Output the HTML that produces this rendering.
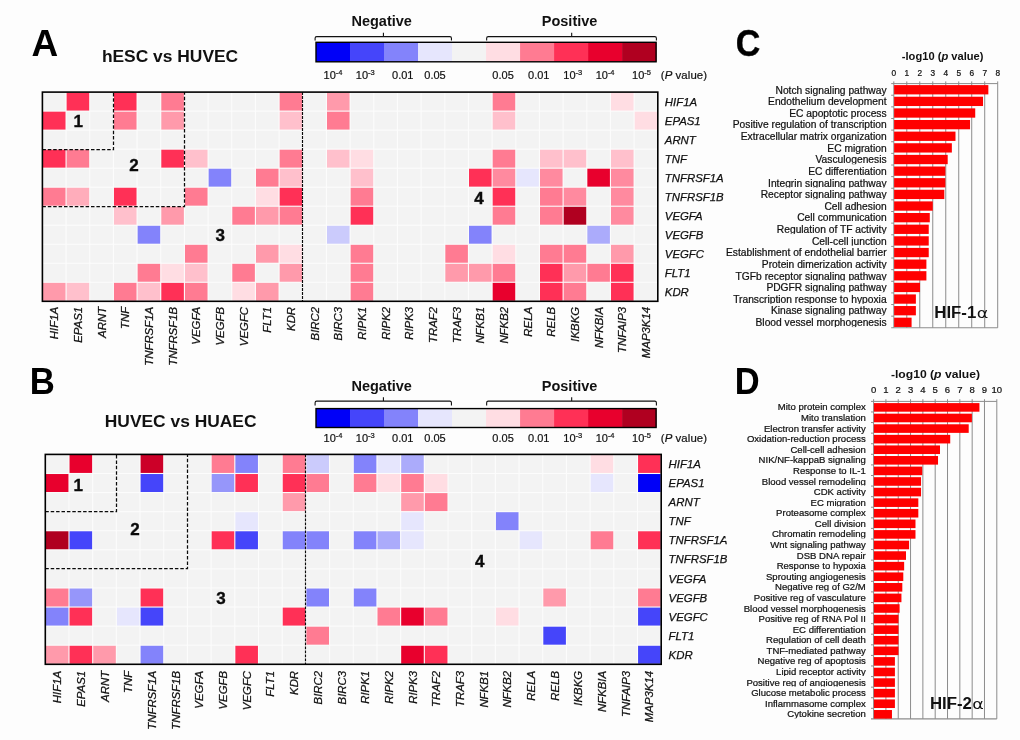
<!DOCTYPE html>
<html><head><meta charset="utf-8"><title>Figure</title>
<style>
html,body{margin:0;padding:0;background:#fdfdfd;}
body{width:1020px;height:740px;overflow:hidden;}
svg{display:block;font-family:"Liberation Sans",Arial,sans-serif;}
.gi{font-size:11.4px;font-style:italic;fill:#111;stroke:#111;stroke-width:0.25px;}
.num{font-size:17px;font-weight:bold;fill:#0a0a0a;stroke:#0a0a0a;stroke-width:0.35px;}
.lt{font-size:14.5px;font-weight:bold;fill:#111;}
.ll{font-size:11px;fill:#111;stroke:#111;stroke-width:0.2px;}
.bl{fill:#111;stroke:#111;stroke-width:0.22px;}
.big{font-size:37px;font-weight:bold;fill:#000;}
.ttl{font-size:17.4px;font-weight:bold;fill:#111;}
</style></head><body>
<svg width="1020" height="740" viewBox="0 0 1020 740">
<rect width="1020" height="740" fill="#fdfdfd"/>
<text class="big" x="31.6" y="56.0" style="font-size:36px" textLength="26.7" lengthAdjust="spacingAndGlyphs">A</text>
<text class="ttl" x="101.9" y="61.8">hESC vs HUVEC</text>
<text class="big" x="29.7" y="394.3" style="font-size:36px" textLength="25.1" lengthAdjust="spacingAndGlyphs">B</text>
<text class="ttl" x="104.8" y="427.4">HUVEC vs HUAEC</text>
<text class="big" x="735.8" y="56.15" style="font-size:37px" stroke="#000" stroke-width="0.4" textLength="24.6" lengthAdjust="spacingAndGlyphs">C</text>
<text class="big" x="734.7" y="394.0" style="font-size:36px" textLength="24.9" lengthAdjust="spacingAndGlyphs">D</text>
<rect x="316.00" y="42.3" width="34.31" height="19.50" fill="#0000f8"/>
<rect x="350.01" y="42.3" width="34.31" height="19.50" fill="#4545fa"/>
<rect x="384.02" y="42.3" width="34.31" height="19.50" fill="#8383fb"/>
<rect x="418.03" y="42.3" width="34.31" height="19.50" fill="#e6e6fd"/>
<rect x="452.04" y="42.3" width="34.31" height="19.50" fill="#f3f3f3"/>
<rect x="486.05" y="42.3" width="34.31" height="19.50" fill="#ffdde3"/>
<rect x="520.06" y="42.3" width="34.31" height="19.50" fill="#ff7b92"/>
<rect x="554.07" y="42.3" width="34.31" height="19.50" fill="#ff3056"/>
<rect x="588.08" y="42.3" width="34.31" height="19.50" fill="#e8002d"/>
<rect x="622.09" y="42.3" width="34.31" height="19.50" fill="#b00020"/>
<rect x="316.0" y="42.3" width="340.10" height="19.50" fill="none" stroke="#000" stroke-width="1.4"/>
<path d="M315.10 40.60V38.20Q315.10 36.60 316.70 36.60H449.84Q451.44 36.60 451.44 38.20V40.60M383.42 36.60V32.70" stroke="#111" stroke-width="1.1" fill="none"/>
<path d="M486.65 40.60V38.20Q486.65 36.60 488.25 36.60H654.80Q656.40 36.60 656.40 38.20V40.60M571.68 36.60V32.70" stroke="#111" stroke-width="1.1" fill="none"/>
<text class="lt" text-anchor="end" x="411.9" y="26.30">Negative</text>
<text class="lt" text-anchor="end" x="597.4" y="26.30">Positive</text>
<text class="ll" text-anchor="middle" x="333.00" y="78.50">10<tspan dy="-4" font-size="7.5">-4</tspan></text>
<text class="ll" text-anchor="middle" x="365.31" y="78.50">10<tspan dy="-4" font-size="7.5">-3</tspan></text>
<text class="ll" text-anchor="middle" x="402.73" y="78.50">0.01</text>
<text class="ll" text-anchor="middle" x="435.04" y="78.50">0.05</text>
<text class="ll" text-anchor="middle" x="503.06" y="78.50">0.05</text>
<text class="ll" text-anchor="middle" x="538.77" y="78.50">0.01</text>
<text class="ll" text-anchor="middle" x="572.78" y="78.50">10<tspan dy="-4" font-size="7.5">-3</tspan></text>
<text class="ll" text-anchor="middle" x="605.09" y="78.50">10<tspan dy="-4" font-size="7.5">-4</tspan></text>
<text class="ll" text-anchor="middle" x="641.48" y="78.50">10<tspan dy="-4" font-size="7.5">-5</tspan></text>
<text class="ll" x="660.80" y="78.50" style="font-size:11.4px" textLength="46.2" lengthAdjust="spacing">(<tspan font-style="italic">P</tspan> value)</text>
<rect x="316.00" y="408.6" width="34.31" height="18.90" fill="#0000f8"/>
<rect x="350.01" y="408.6" width="34.31" height="18.90" fill="#4545fa"/>
<rect x="384.02" y="408.6" width="34.31" height="18.90" fill="#8383fb"/>
<rect x="418.03" y="408.6" width="34.31" height="18.90" fill="#e6e6fd"/>
<rect x="452.04" y="408.6" width="34.31" height="18.90" fill="#f3f3f3"/>
<rect x="486.05" y="408.6" width="34.31" height="18.90" fill="#ffdde3"/>
<rect x="520.06" y="408.6" width="34.31" height="18.90" fill="#ff7b92"/>
<rect x="554.07" y="408.6" width="34.31" height="18.90" fill="#ff3056"/>
<rect x="588.08" y="408.6" width="34.31" height="18.90" fill="#e8002d"/>
<rect x="622.09" y="408.6" width="34.31" height="18.90" fill="#b00020"/>
<rect x="316.0" y="408.6" width="340.10" height="18.90" fill="none" stroke="#000" stroke-width="1.4"/>
<path d="M315.10 405.60V402.70Q315.10 401.10 316.70 401.10H449.84Q451.44 401.10 451.44 402.70V405.60M383.42 401.10V397.20" stroke="#111" stroke-width="1.1" fill="none"/>
<path d="M486.65 405.60V402.70Q486.65 401.10 488.25 401.10H654.80Q656.40 401.10 656.40 402.70V405.60M571.68 401.10V397.20" stroke="#111" stroke-width="1.1" fill="none"/>
<text class="lt" text-anchor="end" x="411.9" y="390.80">Negative</text>
<text class="lt" text-anchor="end" x="597.4" y="390.80">Positive</text>
<text class="ll" text-anchor="middle" x="333.00" y="442.30">10<tspan dy="-4" font-size="7.5">-4</tspan></text>
<text class="ll" text-anchor="middle" x="365.31" y="442.30">10<tspan dy="-4" font-size="7.5">-3</tspan></text>
<text class="ll" text-anchor="middle" x="402.73" y="442.30">0.01</text>
<text class="ll" text-anchor="middle" x="435.04" y="442.30">0.05</text>
<text class="ll" text-anchor="middle" x="503.06" y="442.30">0.05</text>
<text class="ll" text-anchor="middle" x="538.77" y="442.30">0.01</text>
<text class="ll" text-anchor="middle" x="572.78" y="442.30">10<tspan dy="-4" font-size="7.5">-3</tspan></text>
<text class="ll" text-anchor="middle" x="605.09" y="442.30">10<tspan dy="-4" font-size="7.5">-4</tspan></text>
<text class="ll" text-anchor="middle" x="641.48" y="442.30">10<tspan dy="-4" font-size="7.5">-5</tspan></text>
<text class="ll" x="660.80" y="442.30" style="font-size:11.4px" textLength="46.2" lengthAdjust="spacing">(<tspan font-style="italic">P</tspan> value)</text>
<rect x="42.4" y="92.1" width="615.40" height="209.20" fill="#fcfcfc"/>
<rect x="42.95" y="92.65" width="22.57" height="17.92" fill="#f3f3f3"/>
<rect x="66.62" y="92.65" width="22.57" height="17.92" fill="#ff3056"/>
<rect x="90.29" y="92.65" width="22.57" height="17.92" fill="#f3f3f3"/>
<rect x="113.96" y="92.65" width="22.57" height="17.92" fill="#ff3056"/>
<rect x="137.63" y="92.65" width="22.57" height="17.92" fill="#f3f3f3"/>
<rect x="161.30" y="92.65" width="22.57" height="17.92" fill="#ff7b92"/>
<rect x="184.97" y="92.65" width="22.57" height="17.92" fill="#f3f3f3"/>
<rect x="208.63" y="92.65" width="22.57" height="17.92" fill="#f3f3f3"/>
<rect x="232.30" y="92.65" width="22.57" height="17.92" fill="#f3f3f3"/>
<rect x="255.97" y="92.65" width="22.57" height="17.92" fill="#f3f3f3"/>
<rect x="279.64" y="92.65" width="22.57" height="17.92" fill="#ff7b92"/>
<rect x="303.31" y="92.65" width="22.57" height="17.92" fill="#f3f3f3"/>
<rect x="326.98" y="92.65" width="22.57" height="17.92" fill="#ff9aab"/>
<rect x="350.65" y="92.65" width="22.57" height="17.92" fill="#f3f3f3"/>
<rect x="374.32" y="92.65" width="22.57" height="17.92" fill="#f3f3f3"/>
<rect x="397.99" y="92.65" width="22.57" height="17.92" fill="#f3f3f3"/>
<rect x="421.66" y="92.65" width="22.57" height="17.92" fill="#f3f3f3"/>
<rect x="445.33" y="92.65" width="22.57" height="17.92" fill="#f3f3f3"/>
<rect x="469.00" y="92.65" width="22.57" height="17.92" fill="#f3f3f3"/>
<rect x="492.67" y="92.65" width="22.57" height="17.92" fill="#ff7b92"/>
<rect x="516.33" y="92.65" width="22.57" height="17.92" fill="#f3f3f3"/>
<rect x="540.00" y="92.65" width="22.57" height="17.92" fill="#f3f3f3"/>
<rect x="563.67" y="92.65" width="22.57" height="17.92" fill="#f3f3f3"/>
<rect x="587.34" y="92.65" width="22.57" height="17.92" fill="#f3f3f3"/>
<rect x="611.01" y="92.65" width="22.57" height="17.92" fill="#ffdde3"/>
<rect x="634.68" y="92.65" width="22.57" height="17.92" fill="#f3f3f3"/>
<rect x="42.95" y="111.67" width="22.57" height="17.92" fill="#ff3056"/>
<rect x="66.62" y="111.67" width="22.57" height="17.92" fill="#f3f3f3"/>
<rect x="90.29" y="111.67" width="22.57" height="17.92" fill="#f3f3f3"/>
<rect x="113.96" y="111.67" width="22.57" height="17.92" fill="#ff7b92"/>
<rect x="137.63" y="111.67" width="22.57" height="17.92" fill="#f3f3f3"/>
<rect x="161.30" y="111.67" width="22.57" height="17.92" fill="#ff9aab"/>
<rect x="184.97" y="111.67" width="22.57" height="17.92" fill="#f3f3f3"/>
<rect x="208.63" y="111.67" width="22.57" height="17.92" fill="#f3f3f3"/>
<rect x="232.30" y="111.67" width="22.57" height="17.92" fill="#f3f3f3"/>
<rect x="255.97" y="111.67" width="22.57" height="17.92" fill="#f3f3f3"/>
<rect x="279.64" y="111.67" width="22.57" height="17.92" fill="#ffc0cc"/>
<rect x="303.31" y="111.67" width="22.57" height="17.92" fill="#f3f3f3"/>
<rect x="326.98" y="111.67" width="22.57" height="17.92" fill="#ff7b92"/>
<rect x="350.65" y="111.67" width="22.57" height="17.92" fill="#f3f3f3"/>
<rect x="374.32" y="111.67" width="22.57" height="17.92" fill="#f3f3f3"/>
<rect x="397.99" y="111.67" width="22.57" height="17.92" fill="#f3f3f3"/>
<rect x="421.66" y="111.67" width="22.57" height="17.92" fill="#f3f3f3"/>
<rect x="445.33" y="111.67" width="22.57" height="17.92" fill="#f3f3f3"/>
<rect x="469.00" y="111.67" width="22.57" height="17.92" fill="#f3f3f3"/>
<rect x="492.67" y="111.67" width="22.57" height="17.92" fill="#ffc0cc"/>
<rect x="516.33" y="111.67" width="22.57" height="17.92" fill="#f3f3f3"/>
<rect x="540.00" y="111.67" width="22.57" height="17.92" fill="#f3f3f3"/>
<rect x="563.67" y="111.67" width="22.57" height="17.92" fill="#f3f3f3"/>
<rect x="587.34" y="111.67" width="22.57" height="17.92" fill="#f3f3f3"/>
<rect x="611.01" y="111.67" width="22.57" height="17.92" fill="#f3f3f3"/>
<rect x="634.68" y="111.67" width="22.57" height="17.92" fill="#ffdde3"/>
<rect x="42.95" y="130.69" width="22.57" height="17.92" fill="#f3f3f3"/>
<rect x="66.62" y="130.69" width="22.57" height="17.92" fill="#f3f3f3"/>
<rect x="90.29" y="130.69" width="22.57" height="17.92" fill="#f3f3f3"/>
<rect x="113.96" y="130.69" width="22.57" height="17.92" fill="#f3f3f3"/>
<rect x="137.63" y="130.69" width="22.57" height="17.92" fill="#f3f3f3"/>
<rect x="161.30" y="130.69" width="22.57" height="17.92" fill="#f3f3f3"/>
<rect x="184.97" y="130.69" width="22.57" height="17.92" fill="#f3f3f3"/>
<rect x="208.63" y="130.69" width="22.57" height="17.92" fill="#f3f3f3"/>
<rect x="232.30" y="130.69" width="22.57" height="17.92" fill="#f3f3f3"/>
<rect x="255.97" y="130.69" width="22.57" height="17.92" fill="#f3f3f3"/>
<rect x="279.64" y="130.69" width="22.57" height="17.92" fill="#f3f3f3"/>
<rect x="303.31" y="130.69" width="22.57" height="17.92" fill="#f3f3f3"/>
<rect x="326.98" y="130.69" width="22.57" height="17.92" fill="#f3f3f3"/>
<rect x="350.65" y="130.69" width="22.57" height="17.92" fill="#f3f3f3"/>
<rect x="374.32" y="130.69" width="22.57" height="17.92" fill="#f3f3f3"/>
<rect x="397.99" y="130.69" width="22.57" height="17.92" fill="#f3f3f3"/>
<rect x="421.66" y="130.69" width="22.57" height="17.92" fill="#f3f3f3"/>
<rect x="445.33" y="130.69" width="22.57" height="17.92" fill="#f3f3f3"/>
<rect x="469.00" y="130.69" width="22.57" height="17.92" fill="#f3f3f3"/>
<rect x="492.67" y="130.69" width="22.57" height="17.92" fill="#f3f3f3"/>
<rect x="516.33" y="130.69" width="22.57" height="17.92" fill="#f3f3f3"/>
<rect x="540.00" y="130.69" width="22.57" height="17.92" fill="#f3f3f3"/>
<rect x="563.67" y="130.69" width="22.57" height="17.92" fill="#f3f3f3"/>
<rect x="587.34" y="130.69" width="22.57" height="17.92" fill="#f3f3f3"/>
<rect x="611.01" y="130.69" width="22.57" height="17.92" fill="#f3f3f3"/>
<rect x="634.68" y="130.69" width="22.57" height="17.92" fill="#f3f3f3"/>
<rect x="42.95" y="149.70" width="22.57" height="17.92" fill="#ff3056"/>
<rect x="66.62" y="149.70" width="22.57" height="17.92" fill="#ff7b92"/>
<rect x="90.29" y="149.70" width="22.57" height="17.92" fill="#f3f3f3"/>
<rect x="113.96" y="149.70" width="22.57" height="17.92" fill="#f3f3f3"/>
<rect x="137.63" y="149.70" width="22.57" height="17.92" fill="#f3f3f3"/>
<rect x="161.30" y="149.70" width="22.57" height="17.92" fill="#ff3056"/>
<rect x="184.97" y="149.70" width="22.57" height="17.92" fill="#ffc0cc"/>
<rect x="208.63" y="149.70" width="22.57" height="17.92" fill="#f3f3f3"/>
<rect x="232.30" y="149.70" width="22.57" height="17.92" fill="#f3f3f3"/>
<rect x="255.97" y="149.70" width="22.57" height="17.92" fill="#f3f3f3"/>
<rect x="279.64" y="149.70" width="22.57" height="17.92" fill="#ff7b92"/>
<rect x="303.31" y="149.70" width="22.57" height="17.92" fill="#f3f3f3"/>
<rect x="326.98" y="149.70" width="22.57" height="17.92" fill="#ffc0cc"/>
<rect x="350.65" y="149.70" width="22.57" height="17.92" fill="#ffdde3"/>
<rect x="374.32" y="149.70" width="22.57" height="17.92" fill="#f3f3f3"/>
<rect x="397.99" y="149.70" width="22.57" height="17.92" fill="#f3f3f3"/>
<rect x="421.66" y="149.70" width="22.57" height="17.92" fill="#f3f3f3"/>
<rect x="445.33" y="149.70" width="22.57" height="17.92" fill="#f3f3f3"/>
<rect x="469.00" y="149.70" width="22.57" height="17.92" fill="#f3f3f3"/>
<rect x="492.67" y="149.70" width="22.57" height="17.92" fill="#ff7b92"/>
<rect x="516.33" y="149.70" width="22.57" height="17.92" fill="#f3f3f3"/>
<rect x="540.00" y="149.70" width="22.57" height="17.92" fill="#ffc0cc"/>
<rect x="563.67" y="149.70" width="22.57" height="17.92" fill="#ffc0cc"/>
<rect x="587.34" y="149.70" width="22.57" height="17.92" fill="#f3f3f3"/>
<rect x="611.01" y="149.70" width="22.57" height="17.92" fill="#ffc0cc"/>
<rect x="634.68" y="149.70" width="22.57" height="17.92" fill="#f3f3f3"/>
<rect x="42.95" y="168.72" width="22.57" height="17.92" fill="#f3f3f3"/>
<rect x="66.62" y="168.72" width="22.57" height="17.92" fill="#f3f3f3"/>
<rect x="90.29" y="168.72" width="22.57" height="17.92" fill="#f3f3f3"/>
<rect x="113.96" y="168.72" width="22.57" height="17.92" fill="#f3f3f3"/>
<rect x="137.63" y="168.72" width="22.57" height="17.92" fill="#f3f3f3"/>
<rect x="161.30" y="168.72" width="22.57" height="17.92" fill="#f3f3f3"/>
<rect x="184.97" y="168.72" width="22.57" height="17.92" fill="#f3f3f3"/>
<rect x="208.63" y="168.72" width="22.57" height="17.92" fill="#8383fb"/>
<rect x="232.30" y="168.72" width="22.57" height="17.92" fill="#f3f3f3"/>
<rect x="255.97" y="168.72" width="22.57" height="17.92" fill="#ff7b92"/>
<rect x="279.64" y="168.72" width="22.57" height="17.92" fill="#ffc0cc"/>
<rect x="303.31" y="168.72" width="22.57" height="17.92" fill="#f3f3f3"/>
<rect x="326.98" y="168.72" width="22.57" height="17.92" fill="#f3f3f3"/>
<rect x="350.65" y="168.72" width="22.57" height="17.92" fill="#ffc0cc"/>
<rect x="374.32" y="168.72" width="22.57" height="17.92" fill="#f3f3f3"/>
<rect x="397.99" y="168.72" width="22.57" height="17.92" fill="#f3f3f3"/>
<rect x="421.66" y="168.72" width="22.57" height="17.92" fill="#f3f3f3"/>
<rect x="445.33" y="168.72" width="22.57" height="17.92" fill="#f3f3f3"/>
<rect x="469.00" y="168.72" width="22.57" height="17.92" fill="#ff3056"/>
<rect x="492.67" y="168.72" width="22.57" height="17.92" fill="#ff8a9f"/>
<rect x="516.33" y="168.72" width="22.57" height="17.92" fill="#e6e6fd"/>
<rect x="540.00" y="168.72" width="22.57" height="17.92" fill="#ff8a9f"/>
<rect x="563.67" y="168.72" width="22.57" height="17.92" fill="#f3f3f3"/>
<rect x="587.34" y="168.72" width="22.57" height="17.92" fill="#e8002d"/>
<rect x="611.01" y="168.72" width="22.57" height="17.92" fill="#ff8a9f"/>
<rect x="634.68" y="168.72" width="22.57" height="17.92" fill="#f3f3f3"/>
<rect x="42.95" y="187.74" width="22.57" height="17.92" fill="#ff7b92"/>
<rect x="66.62" y="187.74" width="22.57" height="17.92" fill="#ffadbb"/>
<rect x="90.29" y="187.74" width="22.57" height="17.92" fill="#f3f3f3"/>
<rect x="113.96" y="187.74" width="22.57" height="17.92" fill="#ff3056"/>
<rect x="137.63" y="187.74" width="22.57" height="17.92" fill="#f3f3f3"/>
<rect x="161.30" y="187.74" width="22.57" height="17.92" fill="#f3f3f3"/>
<rect x="184.97" y="187.74" width="22.57" height="17.92" fill="#ff7b92"/>
<rect x="208.63" y="187.74" width="22.57" height="17.92" fill="#f3f3f3"/>
<rect x="232.30" y="187.74" width="22.57" height="17.92" fill="#f3f3f3"/>
<rect x="255.97" y="187.74" width="22.57" height="17.92" fill="#ffdde3"/>
<rect x="279.64" y="187.74" width="22.57" height="17.92" fill="#ff3056"/>
<rect x="303.31" y="187.74" width="22.57" height="17.92" fill="#f3f3f3"/>
<rect x="326.98" y="187.74" width="22.57" height="17.92" fill="#f3f3f3"/>
<rect x="350.65" y="187.74" width="22.57" height="17.92" fill="#ff7b92"/>
<rect x="374.32" y="187.74" width="22.57" height="17.92" fill="#f3f3f3"/>
<rect x="397.99" y="187.74" width="22.57" height="17.92" fill="#f3f3f3"/>
<rect x="421.66" y="187.74" width="22.57" height="17.92" fill="#f3f3f3"/>
<rect x="445.33" y="187.74" width="22.57" height="17.92" fill="#f3f3f3"/>
<rect x="469.00" y="187.74" width="22.57" height="17.92" fill="#f3f3f3"/>
<rect x="492.67" y="187.74" width="22.57" height="17.92" fill="#ff3056"/>
<rect x="516.33" y="187.74" width="22.57" height="17.92" fill="#f3f3f3"/>
<rect x="540.00" y="187.74" width="22.57" height="17.92" fill="#ff7b92"/>
<rect x="563.67" y="187.74" width="22.57" height="17.92" fill="#ff8a9f"/>
<rect x="587.34" y="187.74" width="22.57" height="17.92" fill="#f3f3f3"/>
<rect x="611.01" y="187.74" width="22.57" height="17.92" fill="#ff8a9f"/>
<rect x="634.68" y="187.74" width="22.57" height="17.92" fill="#f3f3f3"/>
<rect x="42.95" y="206.76" width="22.57" height="17.92" fill="#f3f3f3"/>
<rect x="66.62" y="206.76" width="22.57" height="17.92" fill="#f3f3f3"/>
<rect x="90.29" y="206.76" width="22.57" height="17.92" fill="#f3f3f3"/>
<rect x="113.96" y="206.76" width="22.57" height="17.92" fill="#ffc0cc"/>
<rect x="137.63" y="206.76" width="22.57" height="17.92" fill="#f3f3f3"/>
<rect x="161.30" y="206.76" width="22.57" height="17.92" fill="#ff9aab"/>
<rect x="184.97" y="206.76" width="22.57" height="17.92" fill="#f3f3f3"/>
<rect x="208.63" y="206.76" width="22.57" height="17.92" fill="#f3f3f3"/>
<rect x="232.30" y="206.76" width="22.57" height="17.92" fill="#ff7b92"/>
<rect x="255.97" y="206.76" width="22.57" height="17.92" fill="#ff9aab"/>
<rect x="279.64" y="206.76" width="22.57" height="17.92" fill="#ff7b92"/>
<rect x="303.31" y="206.76" width="22.57" height="17.92" fill="#f3f3f3"/>
<rect x="326.98" y="206.76" width="22.57" height="17.92" fill="#f3f3f3"/>
<rect x="350.65" y="206.76" width="22.57" height="17.92" fill="#ff3056"/>
<rect x="374.32" y="206.76" width="22.57" height="17.92" fill="#f3f3f3"/>
<rect x="397.99" y="206.76" width="22.57" height="17.92" fill="#f3f3f3"/>
<rect x="421.66" y="206.76" width="22.57" height="17.92" fill="#f3f3f3"/>
<rect x="445.33" y="206.76" width="22.57" height="17.92" fill="#f3f3f3"/>
<rect x="469.00" y="206.76" width="22.57" height="17.92" fill="#f3f3f3"/>
<rect x="492.67" y="206.76" width="22.57" height="17.92" fill="#ff7b92"/>
<rect x="516.33" y="206.76" width="22.57" height="17.92" fill="#f3f3f3"/>
<rect x="540.00" y="206.76" width="22.57" height="17.92" fill="#ff7b92"/>
<rect x="563.67" y="206.76" width="22.57" height="17.92" fill="#b00020"/>
<rect x="587.34" y="206.76" width="22.57" height="17.92" fill="#f3f3f3"/>
<rect x="611.01" y="206.76" width="22.57" height="17.92" fill="#ff8a9f"/>
<rect x="634.68" y="206.76" width="22.57" height="17.92" fill="#f3f3f3"/>
<rect x="42.95" y="225.78" width="22.57" height="17.92" fill="#f3f3f3"/>
<rect x="66.62" y="225.78" width="22.57" height="17.92" fill="#f3f3f3"/>
<rect x="90.29" y="225.78" width="22.57" height="17.92" fill="#f3f3f3"/>
<rect x="113.96" y="225.78" width="22.57" height="17.92" fill="#f3f3f3"/>
<rect x="137.63" y="225.78" width="22.57" height="17.92" fill="#8383fb"/>
<rect x="161.30" y="225.78" width="22.57" height="17.92" fill="#f3f3f3"/>
<rect x="184.97" y="225.78" width="22.57" height="17.92" fill="#f3f3f3"/>
<rect x="208.63" y="225.78" width="22.57" height="17.92" fill="#f3f3f3"/>
<rect x="232.30" y="225.78" width="22.57" height="17.92" fill="#f3f3f3"/>
<rect x="255.97" y="225.78" width="22.57" height="17.92" fill="#f3f3f3"/>
<rect x="279.64" y="225.78" width="22.57" height="17.92" fill="#f3f3f3"/>
<rect x="303.31" y="225.78" width="22.57" height="17.92" fill="#f3f3f3"/>
<rect x="326.98" y="225.78" width="22.57" height="17.92" fill="#cbcbfc"/>
<rect x="350.65" y="225.78" width="22.57" height="17.92" fill="#f3f3f3"/>
<rect x="374.32" y="225.78" width="22.57" height="17.92" fill="#f3f3f3"/>
<rect x="397.99" y="225.78" width="22.57" height="17.92" fill="#f3f3f3"/>
<rect x="421.66" y="225.78" width="22.57" height="17.92" fill="#f3f3f3"/>
<rect x="445.33" y="225.78" width="22.57" height="17.92" fill="#f3f3f3"/>
<rect x="469.00" y="225.78" width="22.57" height="17.92" fill="#8383fb"/>
<rect x="492.67" y="225.78" width="22.57" height="17.92" fill="#f3f3f3"/>
<rect x="516.33" y="225.78" width="22.57" height="17.92" fill="#f3f3f3"/>
<rect x="540.00" y="225.78" width="22.57" height="17.92" fill="#f3f3f3"/>
<rect x="563.67" y="225.78" width="22.57" height="17.92" fill="#f3f3f3"/>
<rect x="587.34" y="225.78" width="22.57" height="17.92" fill="#ababfb"/>
<rect x="611.01" y="225.78" width="22.57" height="17.92" fill="#f3f3f3"/>
<rect x="634.68" y="225.78" width="22.57" height="17.92" fill="#f3f3f3"/>
<rect x="42.95" y="244.80" width="22.57" height="17.92" fill="#f3f3f3"/>
<rect x="66.62" y="244.80" width="22.57" height="17.92" fill="#f3f3f3"/>
<rect x="90.29" y="244.80" width="22.57" height="17.92" fill="#f3f3f3"/>
<rect x="113.96" y="244.80" width="22.57" height="17.92" fill="#f3f3f3"/>
<rect x="137.63" y="244.80" width="22.57" height="17.92" fill="#f3f3f3"/>
<rect x="161.30" y="244.80" width="22.57" height="17.92" fill="#f3f3f3"/>
<rect x="184.97" y="244.80" width="22.57" height="17.92" fill="#ff7b92"/>
<rect x="208.63" y="244.80" width="22.57" height="17.92" fill="#f3f3f3"/>
<rect x="232.30" y="244.80" width="22.57" height="17.92" fill="#f3f3f3"/>
<rect x="255.97" y="244.80" width="22.57" height="17.92" fill="#ff9aab"/>
<rect x="279.64" y="244.80" width="22.57" height="17.92" fill="#ffdde3"/>
<rect x="303.31" y="244.80" width="22.57" height="17.92" fill="#f3f3f3"/>
<rect x="326.98" y="244.80" width="22.57" height="17.92" fill="#f3f3f3"/>
<rect x="350.65" y="244.80" width="22.57" height="17.92" fill="#ff7b92"/>
<rect x="374.32" y="244.80" width="22.57" height="17.92" fill="#f3f3f3"/>
<rect x="397.99" y="244.80" width="22.57" height="17.92" fill="#f3f3f3"/>
<rect x="421.66" y="244.80" width="22.57" height="17.92" fill="#f3f3f3"/>
<rect x="445.33" y="244.80" width="22.57" height="17.92" fill="#ff7b92"/>
<rect x="469.00" y="244.80" width="22.57" height="17.92" fill="#f3f3f3"/>
<rect x="492.67" y="244.80" width="22.57" height="17.92" fill="#ffdde3"/>
<rect x="516.33" y="244.80" width="22.57" height="17.92" fill="#f3f3f3"/>
<rect x="540.00" y="244.80" width="22.57" height="17.92" fill="#ff7b92"/>
<rect x="563.67" y="244.80" width="22.57" height="17.92" fill="#ff7b92"/>
<rect x="587.34" y="244.80" width="22.57" height="17.92" fill="#f3f3f3"/>
<rect x="611.01" y="244.80" width="22.57" height="17.92" fill="#ff9aab"/>
<rect x="634.68" y="244.80" width="22.57" height="17.92" fill="#f3f3f3"/>
<rect x="42.95" y="263.81" width="22.57" height="17.92" fill="#f3f3f3"/>
<rect x="66.62" y="263.81" width="22.57" height="17.92" fill="#f3f3f3"/>
<rect x="90.29" y="263.81" width="22.57" height="17.92" fill="#f3f3f3"/>
<rect x="113.96" y="263.81" width="22.57" height="17.92" fill="#f3f3f3"/>
<rect x="137.63" y="263.81" width="22.57" height="17.92" fill="#ff7b92"/>
<rect x="161.30" y="263.81" width="22.57" height="17.92" fill="#ffdde3"/>
<rect x="184.97" y="263.81" width="22.57" height="17.92" fill="#ffc0cc"/>
<rect x="208.63" y="263.81" width="22.57" height="17.92" fill="#f3f3f3"/>
<rect x="232.30" y="263.81" width="22.57" height="17.92" fill="#ff7b92"/>
<rect x="255.97" y="263.81" width="22.57" height="17.92" fill="#f3f3f3"/>
<rect x="279.64" y="263.81" width="22.57" height="17.92" fill="#ff9aab"/>
<rect x="303.31" y="263.81" width="22.57" height="17.92" fill="#f3f3f3"/>
<rect x="326.98" y="263.81" width="22.57" height="17.92" fill="#f3f3f3"/>
<rect x="350.65" y="263.81" width="22.57" height="17.92" fill="#ff7b92"/>
<rect x="374.32" y="263.81" width="22.57" height="17.92" fill="#f3f3f3"/>
<rect x="397.99" y="263.81" width="22.57" height="17.92" fill="#f3f3f3"/>
<rect x="421.66" y="263.81" width="22.57" height="17.92" fill="#f3f3f3"/>
<rect x="445.33" y="263.81" width="22.57" height="17.92" fill="#ff9aab"/>
<rect x="469.00" y="263.81" width="22.57" height="17.92" fill="#ff9aab"/>
<rect x="492.67" y="263.81" width="22.57" height="17.92" fill="#ff7b92"/>
<rect x="516.33" y="263.81" width="22.57" height="17.92" fill="#f3f3f3"/>
<rect x="540.00" y="263.81" width="22.57" height="17.92" fill="#ff3056"/>
<rect x="563.67" y="263.81" width="22.57" height="17.92" fill="#ff9aab"/>
<rect x="587.34" y="263.81" width="22.57" height="17.92" fill="#ff7b92"/>
<rect x="611.01" y="263.81" width="22.57" height="17.92" fill="#ff3056"/>
<rect x="634.68" y="263.81" width="22.57" height="17.92" fill="#f3f3f3"/>
<rect x="42.95" y="282.83" width="22.57" height="17.92" fill="#ff9aab"/>
<rect x="66.62" y="282.83" width="22.57" height="17.92" fill="#ffc0cc"/>
<rect x="90.29" y="282.83" width="22.57" height="17.92" fill="#f3f3f3"/>
<rect x="113.96" y="282.83" width="22.57" height="17.92" fill="#ff7b92"/>
<rect x="137.63" y="282.83" width="22.57" height="17.92" fill="#ffc0cc"/>
<rect x="161.30" y="282.83" width="22.57" height="17.92" fill="#ff3056"/>
<rect x="184.97" y="282.83" width="22.57" height="17.92" fill="#ff7b92"/>
<rect x="208.63" y="282.83" width="22.57" height="17.92" fill="#f3f3f3"/>
<rect x="232.30" y="282.83" width="22.57" height="17.92" fill="#ffdde3"/>
<rect x="255.97" y="282.83" width="22.57" height="17.92" fill="#ff9aab"/>
<rect x="279.64" y="282.83" width="22.57" height="17.92" fill="#f3f3f3"/>
<rect x="303.31" y="282.83" width="22.57" height="17.92" fill="#f3f3f3"/>
<rect x="326.98" y="282.83" width="22.57" height="17.92" fill="#f3f3f3"/>
<rect x="350.65" y="282.83" width="22.57" height="17.92" fill="#ff7b92"/>
<rect x="374.32" y="282.83" width="22.57" height="17.92" fill="#f3f3f3"/>
<rect x="397.99" y="282.83" width="22.57" height="17.92" fill="#f3f3f3"/>
<rect x="421.66" y="282.83" width="22.57" height="17.92" fill="#f3f3f3"/>
<rect x="445.33" y="282.83" width="22.57" height="17.92" fill="#f3f3f3"/>
<rect x="469.00" y="282.83" width="22.57" height="17.92" fill="#f3f3f3"/>
<rect x="492.67" y="282.83" width="22.57" height="17.92" fill="#e8002d"/>
<rect x="516.33" y="282.83" width="22.57" height="17.92" fill="#f3f3f3"/>
<rect x="540.00" y="282.83" width="22.57" height="17.92" fill="#ff3056"/>
<rect x="563.67" y="282.83" width="22.57" height="17.92" fill="#ff7b92"/>
<rect x="587.34" y="282.83" width="22.57" height="17.92" fill="#f3f3f3"/>
<rect x="611.01" y="282.83" width="22.57" height="17.92" fill="#ff3056"/>
<rect x="634.68" y="282.83" width="22.57" height="17.92" fill="#f3f3f3"/>
<path d="M42.4 149.5H113.5V92.1" stroke="#0a0a0a" stroke-width="1.25" stroke-dasharray="3.5 1.9" fill="none"/>
<path d="M42.4 206.5H184.5V92.1" stroke="#0a0a0a" stroke-width="1.25" stroke-dasharray="3.5 1.9" fill="none"/>
<path d="M302.5 92.1V301.3" stroke="#0a0a0a" stroke-width="1.15" stroke-dasharray="2.8 1.2" fill="none"/>
<rect x="42.4" y="92.1" width="615.40" height="209.20" fill="none" stroke="#000" stroke-width="1.6"/>
<text class="gi" text-anchor="end" transform="translate(58.33 306.90) rotate(-90)">HIF1A</text>
<text class="gi" text-anchor="end" transform="translate(82.00 306.90) rotate(-90)">EPAS1</text>
<text class="gi" text-anchor="end" transform="translate(105.67 306.90) rotate(-90)">ARNT</text>
<text class="gi" text-anchor="end" transform="translate(129.34 306.90) rotate(-90)">TNF</text>
<text class="gi" text-anchor="end" transform="translate(153.01 306.90) rotate(-90)">TNFRSF1A</text>
<text class="gi" text-anchor="end" transform="translate(176.68 306.90) rotate(-90)">TNFRSF1B</text>
<text class="gi" text-anchor="end" transform="translate(200.35 306.90) rotate(-90)">VEGFA</text>
<text class="gi" text-anchor="end" transform="translate(224.02 306.90) rotate(-90)">VEGFB</text>
<text class="gi" text-anchor="end" transform="translate(247.69 306.90) rotate(-90)">VEGFC</text>
<text class="gi" text-anchor="end" transform="translate(271.36 306.90) rotate(-90)">FLT1</text>
<text class="gi" text-anchor="end" transform="translate(295.03 306.90) rotate(-90)">KDR</text>
<text class="gi" text-anchor="end" transform="translate(318.70 306.90) rotate(-90)">BIRC2</text>
<text class="gi" text-anchor="end" transform="translate(342.37 306.90) rotate(-90)">BIRC3</text>
<text class="gi" text-anchor="end" transform="translate(366.03 306.90) rotate(-90)">RIPK1</text>
<text class="gi" text-anchor="end" transform="translate(389.70 306.90) rotate(-90)">RIPK2</text>
<text class="gi" text-anchor="end" transform="translate(413.37 306.90) rotate(-90)">RIPK3</text>
<text class="gi" text-anchor="end" transform="translate(437.04 306.90) rotate(-90)">TRAF2</text>
<text class="gi" text-anchor="end" transform="translate(460.71 306.90) rotate(-90)">TRAF3</text>
<text class="gi" text-anchor="end" transform="translate(484.38 306.90) rotate(-90)">NFKB1</text>
<text class="gi" text-anchor="end" transform="translate(508.05 306.90) rotate(-90)">NFKB2</text>
<text class="gi" text-anchor="end" transform="translate(531.72 306.90) rotate(-90)">RELA</text>
<text class="gi" text-anchor="end" transform="translate(555.39 306.90) rotate(-90)">RELB</text>
<text class="gi" text-anchor="end" transform="translate(579.06 306.90) rotate(-90)">IKBKG</text>
<text class="gi" text-anchor="end" transform="translate(602.73 306.90) rotate(-90)">NFKBIA</text>
<text class="gi" text-anchor="end" transform="translate(626.40 306.90) rotate(-90)">TNFAIP3</text>
<text class="gi" text-anchor="end" transform="translate(650.07 306.90) rotate(-90)">MAP3K14</text>
<text class="gi" x="664.8" y="105.71">HIF1A</text>
<text class="gi" x="664.8" y="124.73">EPAS1</text>
<text class="gi" x="664.8" y="143.75">ARNT</text>
<text class="gi" x="664.8" y="162.76">TNF</text>
<text class="gi" x="664.8" y="181.78">TNFRSF1A</text>
<text class="gi" x="664.8" y="200.80">TNFRSF1B</text>
<text class="gi" x="664.8" y="219.82">VEGFA</text>
<text class="gi" x="664.8" y="238.84">VEGFB</text>
<text class="gi" x="664.8" y="257.85">VEGFC</text>
<text class="gi" x="664.8" y="276.87">FLT1</text>
<text class="gi" x="664.8" y="295.89">KDR</text>
<text class="num" text-anchor="middle" x="78.3" y="127">1</text>
<text class="num" text-anchor="middle" x="134.1" y="170.8">2</text>
<text class="num" text-anchor="middle" x="220.2" y="241">3</text>
<text class="num" text-anchor="middle" x="478.9" y="204.3">4</text>
<rect x="45.3" y="454.4" width="615.90" height="209.90" fill="#fcfcfc"/>
<rect x="45.85" y="454.95" width="22.59" height="17.98" fill="#f3f3f3"/>
<rect x="69.54" y="454.95" width="22.59" height="17.98" fill="#e8002d"/>
<rect x="93.23" y="454.95" width="22.59" height="17.98" fill="#f3f3f3"/>
<rect x="116.92" y="454.95" width="22.59" height="17.98" fill="#f3f3f3"/>
<rect x="140.60" y="454.95" width="22.59" height="17.98" fill="#cc0028"/>
<rect x="164.29" y="454.95" width="22.59" height="17.98" fill="#f3f3f3"/>
<rect x="187.98" y="454.95" width="22.59" height="17.98" fill="#f3f3f3"/>
<rect x="211.67" y="454.95" width="22.59" height="17.98" fill="#ff7b92"/>
<rect x="235.36" y="454.95" width="22.59" height="17.98" fill="#8383fb"/>
<rect x="259.05" y="454.95" width="22.59" height="17.98" fill="#f3f3f3"/>
<rect x="282.73" y="454.95" width="22.59" height="17.98" fill="#ff7b92"/>
<rect x="306.42" y="454.95" width="22.59" height="17.98" fill="#cbcbfc"/>
<rect x="330.11" y="454.95" width="22.59" height="17.98" fill="#f3f3f3"/>
<rect x="353.80" y="454.95" width="22.59" height="17.98" fill="#8383fb"/>
<rect x="377.49" y="454.95" width="22.59" height="17.98" fill="#e6e6fd"/>
<rect x="401.18" y="454.95" width="22.59" height="17.98" fill="#ababfb"/>
<rect x="424.87" y="454.95" width="22.59" height="17.98" fill="#f3f3f3"/>
<rect x="448.55" y="454.95" width="22.59" height="17.98" fill="#f3f3f3"/>
<rect x="472.24" y="454.95" width="22.59" height="17.98" fill="#f3f3f3"/>
<rect x="495.93" y="454.95" width="22.59" height="17.98" fill="#f3f3f3"/>
<rect x="519.62" y="454.95" width="22.59" height="17.98" fill="#f3f3f3"/>
<rect x="543.31" y="454.95" width="22.59" height="17.98" fill="#f3f3f3"/>
<rect x="567.00" y="454.95" width="22.59" height="17.98" fill="#f3f3f3"/>
<rect x="590.68" y="454.95" width="22.59" height="17.98" fill="#ffdde3"/>
<rect x="614.37" y="454.95" width="22.59" height="17.98" fill="#f3f3f3"/>
<rect x="638.06" y="454.95" width="22.59" height="17.98" fill="#ff3056"/>
<rect x="45.85" y="474.03" width="22.59" height="17.98" fill="#e8002d"/>
<rect x="69.54" y="474.03" width="22.59" height="17.98" fill="#f3f3f3"/>
<rect x="93.23" y="474.03" width="22.59" height="17.98" fill="#f3f3f3"/>
<rect x="116.92" y="474.03" width="22.59" height="17.98" fill="#f3f3f3"/>
<rect x="140.60" y="474.03" width="22.59" height="17.98" fill="#4545fa"/>
<rect x="164.29" y="474.03" width="22.59" height="17.98" fill="#f3f3f3"/>
<rect x="187.98" y="474.03" width="22.59" height="17.98" fill="#f3f3f3"/>
<rect x="211.67" y="474.03" width="22.59" height="17.98" fill="#9696fa"/>
<rect x="235.36" y="474.03" width="22.59" height="17.98" fill="#ff3056"/>
<rect x="259.05" y="474.03" width="22.59" height="17.98" fill="#f3f3f3"/>
<rect x="282.73" y="474.03" width="22.59" height="17.98" fill="#ff3056"/>
<rect x="306.42" y="474.03" width="22.59" height="17.98" fill="#ff7b92"/>
<rect x="330.11" y="474.03" width="22.59" height="17.98" fill="#f3f3f3"/>
<rect x="353.80" y="474.03" width="22.59" height="17.98" fill="#ff7b92"/>
<rect x="377.49" y="474.03" width="22.59" height="17.98" fill="#ffdde3"/>
<rect x="401.18" y="474.03" width="22.59" height="17.98" fill="#ff7b92"/>
<rect x="424.87" y="474.03" width="22.59" height="17.98" fill="#ffdde3"/>
<rect x="448.55" y="474.03" width="22.59" height="17.98" fill="#f3f3f3"/>
<rect x="472.24" y="474.03" width="22.59" height="17.98" fill="#f3f3f3"/>
<rect x="495.93" y="474.03" width="22.59" height="17.98" fill="#f3f3f3"/>
<rect x="519.62" y="474.03" width="22.59" height="17.98" fill="#f3f3f3"/>
<rect x="543.31" y="474.03" width="22.59" height="17.98" fill="#f3f3f3"/>
<rect x="567.00" y="474.03" width="22.59" height="17.98" fill="#f3f3f3"/>
<rect x="590.68" y="474.03" width="22.59" height="17.98" fill="#e6e6fd"/>
<rect x="614.37" y="474.03" width="22.59" height="17.98" fill="#f3f3f3"/>
<rect x="638.06" y="474.03" width="22.59" height="17.98" fill="#0000f8"/>
<rect x="45.85" y="493.11" width="22.59" height="17.98" fill="#f3f3f3"/>
<rect x="69.54" y="493.11" width="22.59" height="17.98" fill="#f3f3f3"/>
<rect x="93.23" y="493.11" width="22.59" height="17.98" fill="#f3f3f3"/>
<rect x="116.92" y="493.11" width="22.59" height="17.98" fill="#f3f3f3"/>
<rect x="140.60" y="493.11" width="22.59" height="17.98" fill="#f3f3f3"/>
<rect x="164.29" y="493.11" width="22.59" height="17.98" fill="#f3f3f3"/>
<rect x="187.98" y="493.11" width="22.59" height="17.98" fill="#f3f3f3"/>
<rect x="211.67" y="493.11" width="22.59" height="17.98" fill="#f3f3f3"/>
<rect x="235.36" y="493.11" width="22.59" height="17.98" fill="#f3f3f3"/>
<rect x="259.05" y="493.11" width="22.59" height="17.98" fill="#f3f3f3"/>
<rect x="282.73" y="493.11" width="22.59" height="17.98" fill="#ff9aab"/>
<rect x="306.42" y="493.11" width="22.59" height="17.98" fill="#f3f3f3"/>
<rect x="330.11" y="493.11" width="22.59" height="17.98" fill="#f3f3f3"/>
<rect x="353.80" y="493.11" width="22.59" height="17.98" fill="#f3f3f3"/>
<rect x="377.49" y="493.11" width="22.59" height="17.98" fill="#f3f3f3"/>
<rect x="401.18" y="493.11" width="22.59" height="17.98" fill="#ff9aab"/>
<rect x="424.87" y="493.11" width="22.59" height="17.98" fill="#ff7b92"/>
<rect x="448.55" y="493.11" width="22.59" height="17.98" fill="#f3f3f3"/>
<rect x="472.24" y="493.11" width="22.59" height="17.98" fill="#f3f3f3"/>
<rect x="495.93" y="493.11" width="22.59" height="17.98" fill="#f3f3f3"/>
<rect x="519.62" y="493.11" width="22.59" height="17.98" fill="#f3f3f3"/>
<rect x="543.31" y="493.11" width="22.59" height="17.98" fill="#f3f3f3"/>
<rect x="567.00" y="493.11" width="22.59" height="17.98" fill="#f3f3f3"/>
<rect x="590.68" y="493.11" width="22.59" height="17.98" fill="#f3f3f3"/>
<rect x="614.37" y="493.11" width="22.59" height="17.98" fill="#f3f3f3"/>
<rect x="638.06" y="493.11" width="22.59" height="17.98" fill="#f3f3f3"/>
<rect x="45.85" y="512.20" width="22.59" height="17.98" fill="#f3f3f3"/>
<rect x="69.54" y="512.20" width="22.59" height="17.98" fill="#f3f3f3"/>
<rect x="93.23" y="512.20" width="22.59" height="17.98" fill="#f3f3f3"/>
<rect x="116.92" y="512.20" width="22.59" height="17.98" fill="#f3f3f3"/>
<rect x="140.60" y="512.20" width="22.59" height="17.98" fill="#f3f3f3"/>
<rect x="164.29" y="512.20" width="22.59" height="17.98" fill="#f3f3f3"/>
<rect x="187.98" y="512.20" width="22.59" height="17.98" fill="#f3f3f3"/>
<rect x="211.67" y="512.20" width="22.59" height="17.98" fill="#f3f3f3"/>
<rect x="235.36" y="512.20" width="22.59" height="17.98" fill="#e6e6fd"/>
<rect x="259.05" y="512.20" width="22.59" height="17.98" fill="#f3f3f3"/>
<rect x="282.73" y="512.20" width="22.59" height="17.98" fill="#f3f3f3"/>
<rect x="306.42" y="512.20" width="22.59" height="17.98" fill="#f3f3f3"/>
<rect x="330.11" y="512.20" width="22.59" height="17.98" fill="#f3f3f3"/>
<rect x="353.80" y="512.20" width="22.59" height="17.98" fill="#f3f3f3"/>
<rect x="377.49" y="512.20" width="22.59" height="17.98" fill="#f3f3f3"/>
<rect x="401.18" y="512.20" width="22.59" height="17.98" fill="#e6e6fd"/>
<rect x="424.87" y="512.20" width="22.59" height="17.98" fill="#f3f3f3"/>
<rect x="448.55" y="512.20" width="22.59" height="17.98" fill="#f3f3f3"/>
<rect x="472.24" y="512.20" width="22.59" height="17.98" fill="#f3f3f3"/>
<rect x="495.93" y="512.20" width="22.59" height="17.98" fill="#8383fb"/>
<rect x="519.62" y="512.20" width="22.59" height="17.98" fill="#f3f3f3"/>
<rect x="543.31" y="512.20" width="22.59" height="17.98" fill="#f3f3f3"/>
<rect x="567.00" y="512.20" width="22.59" height="17.98" fill="#f3f3f3"/>
<rect x="590.68" y="512.20" width="22.59" height="17.98" fill="#f3f3f3"/>
<rect x="614.37" y="512.20" width="22.59" height="17.98" fill="#f3f3f3"/>
<rect x="638.06" y="512.20" width="22.59" height="17.98" fill="#f3f3f3"/>
<rect x="45.85" y="531.28" width="22.59" height="17.98" fill="#b00020"/>
<rect x="69.54" y="531.28" width="22.59" height="17.98" fill="#4545fa"/>
<rect x="93.23" y="531.28" width="22.59" height="17.98" fill="#f3f3f3"/>
<rect x="116.92" y="531.28" width="22.59" height="17.98" fill="#f3f3f3"/>
<rect x="140.60" y="531.28" width="22.59" height="17.98" fill="#f3f3f3"/>
<rect x="164.29" y="531.28" width="22.59" height="17.98" fill="#f3f3f3"/>
<rect x="187.98" y="531.28" width="22.59" height="17.98" fill="#f3f3f3"/>
<rect x="211.67" y="531.28" width="22.59" height="17.98" fill="#ff3056"/>
<rect x="235.36" y="531.28" width="22.59" height="17.98" fill="#4545fa"/>
<rect x="259.05" y="531.28" width="22.59" height="17.98" fill="#f3f3f3"/>
<rect x="282.73" y="531.28" width="22.59" height="17.98" fill="#8383fb"/>
<rect x="306.42" y="531.28" width="22.59" height="17.98" fill="#8383fb"/>
<rect x="330.11" y="531.28" width="22.59" height="17.98" fill="#f3f3f3"/>
<rect x="353.80" y="531.28" width="22.59" height="17.98" fill="#8383fb"/>
<rect x="377.49" y="531.28" width="22.59" height="17.98" fill="#ababfb"/>
<rect x="401.18" y="531.28" width="22.59" height="17.98" fill="#e6e6fd"/>
<rect x="424.87" y="531.28" width="22.59" height="17.98" fill="#f3f3f3"/>
<rect x="448.55" y="531.28" width="22.59" height="17.98" fill="#f3f3f3"/>
<rect x="472.24" y="531.28" width="22.59" height="17.98" fill="#f3f3f3"/>
<rect x="495.93" y="531.28" width="22.59" height="17.98" fill="#f3f3f3"/>
<rect x="519.62" y="531.28" width="22.59" height="17.98" fill="#e6e6fd"/>
<rect x="543.31" y="531.28" width="22.59" height="17.98" fill="#f3f3f3"/>
<rect x="567.00" y="531.28" width="22.59" height="17.98" fill="#f3f3f3"/>
<rect x="590.68" y="531.28" width="22.59" height="17.98" fill="#ff7b92"/>
<rect x="614.37" y="531.28" width="22.59" height="17.98" fill="#f3f3f3"/>
<rect x="638.06" y="531.28" width="22.59" height="17.98" fill="#ff3056"/>
<rect x="45.85" y="550.36" width="22.59" height="17.98" fill="#f3f3f3"/>
<rect x="69.54" y="550.36" width="22.59" height="17.98" fill="#f3f3f3"/>
<rect x="93.23" y="550.36" width="22.59" height="17.98" fill="#f3f3f3"/>
<rect x="116.92" y="550.36" width="22.59" height="17.98" fill="#f3f3f3"/>
<rect x="140.60" y="550.36" width="22.59" height="17.98" fill="#f3f3f3"/>
<rect x="164.29" y="550.36" width="22.59" height="17.98" fill="#f3f3f3"/>
<rect x="187.98" y="550.36" width="22.59" height="17.98" fill="#f3f3f3"/>
<rect x="211.67" y="550.36" width="22.59" height="17.98" fill="#f3f3f3"/>
<rect x="235.36" y="550.36" width="22.59" height="17.98" fill="#f3f3f3"/>
<rect x="259.05" y="550.36" width="22.59" height="17.98" fill="#f3f3f3"/>
<rect x="282.73" y="550.36" width="22.59" height="17.98" fill="#f3f3f3"/>
<rect x="306.42" y="550.36" width="22.59" height="17.98" fill="#f3f3f3"/>
<rect x="330.11" y="550.36" width="22.59" height="17.98" fill="#f3f3f3"/>
<rect x="353.80" y="550.36" width="22.59" height="17.98" fill="#f3f3f3"/>
<rect x="377.49" y="550.36" width="22.59" height="17.98" fill="#f3f3f3"/>
<rect x="401.18" y="550.36" width="22.59" height="17.98" fill="#f3f3f3"/>
<rect x="424.87" y="550.36" width="22.59" height="17.98" fill="#f3f3f3"/>
<rect x="448.55" y="550.36" width="22.59" height="17.98" fill="#f3f3f3"/>
<rect x="472.24" y="550.36" width="22.59" height="17.98" fill="#f3f3f3"/>
<rect x="495.93" y="550.36" width="22.59" height="17.98" fill="#f3f3f3"/>
<rect x="519.62" y="550.36" width="22.59" height="17.98" fill="#f3f3f3"/>
<rect x="543.31" y="550.36" width="22.59" height="17.98" fill="#f3f3f3"/>
<rect x="567.00" y="550.36" width="22.59" height="17.98" fill="#f3f3f3"/>
<rect x="590.68" y="550.36" width="22.59" height="17.98" fill="#f3f3f3"/>
<rect x="614.37" y="550.36" width="22.59" height="17.98" fill="#f3f3f3"/>
<rect x="638.06" y="550.36" width="22.59" height="17.98" fill="#f3f3f3"/>
<rect x="45.85" y="569.44" width="22.59" height="17.98" fill="#f3f3f3"/>
<rect x="69.54" y="569.44" width="22.59" height="17.98" fill="#f3f3f3"/>
<rect x="93.23" y="569.44" width="22.59" height="17.98" fill="#f3f3f3"/>
<rect x="116.92" y="569.44" width="22.59" height="17.98" fill="#f3f3f3"/>
<rect x="140.60" y="569.44" width="22.59" height="17.98" fill="#f3f3f3"/>
<rect x="164.29" y="569.44" width="22.59" height="17.98" fill="#f3f3f3"/>
<rect x="187.98" y="569.44" width="22.59" height="17.98" fill="#f3f3f3"/>
<rect x="211.67" y="569.44" width="22.59" height="17.98" fill="#f3f3f3"/>
<rect x="235.36" y="569.44" width="22.59" height="17.98" fill="#f3f3f3"/>
<rect x="259.05" y="569.44" width="22.59" height="17.98" fill="#f3f3f3"/>
<rect x="282.73" y="569.44" width="22.59" height="17.98" fill="#f3f3f3"/>
<rect x="306.42" y="569.44" width="22.59" height="17.98" fill="#f3f3f3"/>
<rect x="330.11" y="569.44" width="22.59" height="17.98" fill="#f3f3f3"/>
<rect x="353.80" y="569.44" width="22.59" height="17.98" fill="#f3f3f3"/>
<rect x="377.49" y="569.44" width="22.59" height="17.98" fill="#f3f3f3"/>
<rect x="401.18" y="569.44" width="22.59" height="17.98" fill="#f3f3f3"/>
<rect x="424.87" y="569.44" width="22.59" height="17.98" fill="#f3f3f3"/>
<rect x="448.55" y="569.44" width="22.59" height="17.98" fill="#f3f3f3"/>
<rect x="472.24" y="569.44" width="22.59" height="17.98" fill="#f3f3f3"/>
<rect x="495.93" y="569.44" width="22.59" height="17.98" fill="#f3f3f3"/>
<rect x="519.62" y="569.44" width="22.59" height="17.98" fill="#f3f3f3"/>
<rect x="543.31" y="569.44" width="22.59" height="17.98" fill="#f3f3f3"/>
<rect x="567.00" y="569.44" width="22.59" height="17.98" fill="#f3f3f3"/>
<rect x="590.68" y="569.44" width="22.59" height="17.98" fill="#f3f3f3"/>
<rect x="614.37" y="569.44" width="22.59" height="17.98" fill="#f3f3f3"/>
<rect x="638.06" y="569.44" width="22.59" height="17.98" fill="#f3f3f3"/>
<rect x="45.85" y="588.52" width="22.59" height="17.98" fill="#ff7b92"/>
<rect x="69.54" y="588.52" width="22.59" height="17.98" fill="#9696fa"/>
<rect x="93.23" y="588.52" width="22.59" height="17.98" fill="#f3f3f3"/>
<rect x="116.92" y="588.52" width="22.59" height="17.98" fill="#f3f3f3"/>
<rect x="140.60" y="588.52" width="22.59" height="17.98" fill="#ff3056"/>
<rect x="164.29" y="588.52" width="22.59" height="17.98" fill="#f3f3f3"/>
<rect x="187.98" y="588.52" width="22.59" height="17.98" fill="#f3f3f3"/>
<rect x="211.67" y="588.52" width="22.59" height="17.98" fill="#f3f3f3"/>
<rect x="235.36" y="588.52" width="22.59" height="17.98" fill="#f3f3f3"/>
<rect x="259.05" y="588.52" width="22.59" height="17.98" fill="#f3f3f3"/>
<rect x="282.73" y="588.52" width="22.59" height="17.98" fill="#f3f3f3"/>
<rect x="306.42" y="588.52" width="22.59" height="17.98" fill="#8383fb"/>
<rect x="330.11" y="588.52" width="22.59" height="17.98" fill="#f3f3f3"/>
<rect x="353.80" y="588.52" width="22.59" height="17.98" fill="#8383fb"/>
<rect x="377.49" y="588.52" width="22.59" height="17.98" fill="#f3f3f3"/>
<rect x="401.18" y="588.52" width="22.59" height="17.98" fill="#f3f3f3"/>
<rect x="424.87" y="588.52" width="22.59" height="17.98" fill="#f3f3f3"/>
<rect x="448.55" y="588.52" width="22.59" height="17.98" fill="#f3f3f3"/>
<rect x="472.24" y="588.52" width="22.59" height="17.98" fill="#f3f3f3"/>
<rect x="495.93" y="588.52" width="22.59" height="17.98" fill="#f3f3f3"/>
<rect x="519.62" y="588.52" width="22.59" height="17.98" fill="#f3f3f3"/>
<rect x="543.31" y="588.52" width="22.59" height="17.98" fill="#ff9aab"/>
<rect x="567.00" y="588.52" width="22.59" height="17.98" fill="#f3f3f3"/>
<rect x="590.68" y="588.52" width="22.59" height="17.98" fill="#f3f3f3"/>
<rect x="614.37" y="588.52" width="22.59" height="17.98" fill="#f3f3f3"/>
<rect x="638.06" y="588.52" width="22.59" height="17.98" fill="#ff7b92"/>
<rect x="45.85" y="607.60" width="22.59" height="17.98" fill="#8383fb"/>
<rect x="69.54" y="607.60" width="22.59" height="17.98" fill="#ff3056"/>
<rect x="93.23" y="607.60" width="22.59" height="17.98" fill="#f3f3f3"/>
<rect x="116.92" y="607.60" width="22.59" height="17.98" fill="#e6e6fd"/>
<rect x="140.60" y="607.60" width="22.59" height="17.98" fill="#4545fa"/>
<rect x="164.29" y="607.60" width="22.59" height="17.98" fill="#f3f3f3"/>
<rect x="187.98" y="607.60" width="22.59" height="17.98" fill="#f3f3f3"/>
<rect x="211.67" y="607.60" width="22.59" height="17.98" fill="#f3f3f3"/>
<rect x="235.36" y="607.60" width="22.59" height="17.98" fill="#f3f3f3"/>
<rect x="259.05" y="607.60" width="22.59" height="17.98" fill="#f3f3f3"/>
<rect x="282.73" y="607.60" width="22.59" height="17.98" fill="#ff3056"/>
<rect x="306.42" y="607.60" width="22.59" height="17.98" fill="#f3f3f3"/>
<rect x="330.11" y="607.60" width="22.59" height="17.98" fill="#f3f3f3"/>
<rect x="353.80" y="607.60" width="22.59" height="17.98" fill="#f3f3f3"/>
<rect x="377.49" y="607.60" width="22.59" height="17.98" fill="#ff7b92"/>
<rect x="401.18" y="607.60" width="22.59" height="17.98" fill="#e8002d"/>
<rect x="424.87" y="607.60" width="22.59" height="17.98" fill="#ff7b92"/>
<rect x="448.55" y="607.60" width="22.59" height="17.98" fill="#f3f3f3"/>
<rect x="472.24" y="607.60" width="22.59" height="17.98" fill="#f3f3f3"/>
<rect x="495.93" y="607.60" width="22.59" height="17.98" fill="#ffdde3"/>
<rect x="519.62" y="607.60" width="22.59" height="17.98" fill="#f3f3f3"/>
<rect x="543.31" y="607.60" width="22.59" height="17.98" fill="#f3f3f3"/>
<rect x="567.00" y="607.60" width="22.59" height="17.98" fill="#f3f3f3"/>
<rect x="590.68" y="607.60" width="22.59" height="17.98" fill="#f3f3f3"/>
<rect x="614.37" y="607.60" width="22.59" height="17.98" fill="#f3f3f3"/>
<rect x="638.06" y="607.60" width="22.59" height="17.98" fill="#4545fa"/>
<rect x="45.85" y="626.69" width="22.59" height="17.98" fill="#f3f3f3"/>
<rect x="69.54" y="626.69" width="22.59" height="17.98" fill="#f3f3f3"/>
<rect x="93.23" y="626.69" width="22.59" height="17.98" fill="#f3f3f3"/>
<rect x="116.92" y="626.69" width="22.59" height="17.98" fill="#f3f3f3"/>
<rect x="140.60" y="626.69" width="22.59" height="17.98" fill="#f3f3f3"/>
<rect x="164.29" y="626.69" width="22.59" height="17.98" fill="#f3f3f3"/>
<rect x="187.98" y="626.69" width="22.59" height="17.98" fill="#f3f3f3"/>
<rect x="211.67" y="626.69" width="22.59" height="17.98" fill="#f3f3f3"/>
<rect x="235.36" y="626.69" width="22.59" height="17.98" fill="#f3f3f3"/>
<rect x="259.05" y="626.69" width="22.59" height="17.98" fill="#f3f3f3"/>
<rect x="282.73" y="626.69" width="22.59" height="17.98" fill="#f3f3f3"/>
<rect x="306.42" y="626.69" width="22.59" height="17.98" fill="#ff7b92"/>
<rect x="330.11" y="626.69" width="22.59" height="17.98" fill="#f3f3f3"/>
<rect x="353.80" y="626.69" width="22.59" height="17.98" fill="#f3f3f3"/>
<rect x="377.49" y="626.69" width="22.59" height="17.98" fill="#f3f3f3"/>
<rect x="401.18" y="626.69" width="22.59" height="17.98" fill="#f3f3f3"/>
<rect x="424.87" y="626.69" width="22.59" height="17.98" fill="#f3f3f3"/>
<rect x="448.55" y="626.69" width="22.59" height="17.98" fill="#f3f3f3"/>
<rect x="472.24" y="626.69" width="22.59" height="17.98" fill="#f3f3f3"/>
<rect x="495.93" y="626.69" width="22.59" height="17.98" fill="#f3f3f3"/>
<rect x="519.62" y="626.69" width="22.59" height="17.98" fill="#f3f3f3"/>
<rect x="543.31" y="626.69" width="22.59" height="17.98" fill="#4545fa"/>
<rect x="567.00" y="626.69" width="22.59" height="17.98" fill="#f3f3f3"/>
<rect x="590.68" y="626.69" width="22.59" height="17.98" fill="#f3f3f3"/>
<rect x="614.37" y="626.69" width="22.59" height="17.98" fill="#f3f3f3"/>
<rect x="638.06" y="626.69" width="22.59" height="17.98" fill="#f3f3f3"/>
<rect x="45.85" y="645.77" width="22.59" height="17.98" fill="#ff9aab"/>
<rect x="69.54" y="645.77" width="22.59" height="17.98" fill="#ff3056"/>
<rect x="93.23" y="645.77" width="22.59" height="17.98" fill="#ff9aab"/>
<rect x="116.92" y="645.77" width="22.59" height="17.98" fill="#f3f3f3"/>
<rect x="140.60" y="645.77" width="22.59" height="17.98" fill="#8383fb"/>
<rect x="164.29" y="645.77" width="22.59" height="17.98" fill="#f3f3f3"/>
<rect x="187.98" y="645.77" width="22.59" height="17.98" fill="#f3f3f3"/>
<rect x="211.67" y="645.77" width="22.59" height="17.98" fill="#f3f3f3"/>
<rect x="235.36" y="645.77" width="22.59" height="17.98" fill="#ff3056"/>
<rect x="259.05" y="645.77" width="22.59" height="17.98" fill="#f3f3f3"/>
<rect x="282.73" y="645.77" width="22.59" height="17.98" fill="#f3f3f3"/>
<rect x="306.42" y="645.77" width="22.59" height="17.98" fill="#f3f3f3"/>
<rect x="330.11" y="645.77" width="22.59" height="17.98" fill="#f3f3f3"/>
<rect x="353.80" y="645.77" width="22.59" height="17.98" fill="#f3f3f3"/>
<rect x="377.49" y="645.77" width="22.59" height="17.98" fill="#f3f3f3"/>
<rect x="401.18" y="645.77" width="22.59" height="17.98" fill="#e8002d"/>
<rect x="424.87" y="645.77" width="22.59" height="17.98" fill="#ff3056"/>
<rect x="448.55" y="645.77" width="22.59" height="17.98" fill="#f3f3f3"/>
<rect x="472.24" y="645.77" width="22.59" height="17.98" fill="#f3f3f3"/>
<rect x="495.93" y="645.77" width="22.59" height="17.98" fill="#f3f3f3"/>
<rect x="519.62" y="645.77" width="22.59" height="17.98" fill="#f3f3f3"/>
<rect x="543.31" y="645.77" width="22.59" height="17.98" fill="#f3f3f3"/>
<rect x="567.00" y="645.77" width="22.59" height="17.98" fill="#f3f3f3"/>
<rect x="590.68" y="645.77" width="22.59" height="17.98" fill="#f3f3f3"/>
<rect x="614.37" y="645.77" width="22.59" height="17.98" fill="#f3f3f3"/>
<rect x="638.06" y="645.77" width="22.59" height="17.98" fill="#4545fa"/>
<path d="M45.3 511.5H116.5V454.4" stroke="#0a0a0a" stroke-width="1.25" stroke-dasharray="3.5 1.9" fill="none"/>
<path d="M45.3 568.5H187.5V454.4" stroke="#0a0a0a" stroke-width="1.25" stroke-dasharray="3.5 1.9" fill="none"/>
<path d="M305.5 454.4V664.3" stroke="#0a0a0a" stroke-width="1.15" stroke-dasharray="2.8 1.2" fill="none"/>
<rect x="45.3" y="454.4" width="615.90" height="209.90" fill="none" stroke="#000" stroke-width="1.6"/>
<text class="gi" text-anchor="end" transform="translate(61.24 670.90) rotate(-90)">HIF1A</text>
<text class="gi" text-anchor="end" transform="translate(84.93 670.90) rotate(-90)">EPAS1</text>
<text class="gi" text-anchor="end" transform="translate(108.62 670.90) rotate(-90)">ARNT</text>
<text class="gi" text-anchor="end" transform="translate(132.31 670.90) rotate(-90)">TNF</text>
<text class="gi" text-anchor="end" transform="translate(156.00 670.90) rotate(-90)">TNFRSF1A</text>
<text class="gi" text-anchor="end" transform="translate(179.69 670.90) rotate(-90)">TNFRSF1B</text>
<text class="gi" text-anchor="end" transform="translate(203.38 670.90) rotate(-90)">VEGFA</text>
<text class="gi" text-anchor="end" transform="translate(227.06 670.90) rotate(-90)">VEGFB</text>
<text class="gi" text-anchor="end" transform="translate(250.75 670.90) rotate(-90)">VEGFC</text>
<text class="gi" text-anchor="end" transform="translate(274.44 670.90) rotate(-90)">FLT1</text>
<text class="gi" text-anchor="end" transform="translate(298.13 670.90) rotate(-90)">KDR</text>
<text class="gi" text-anchor="end" transform="translate(321.82 670.90) rotate(-90)">BIRC2</text>
<text class="gi" text-anchor="end" transform="translate(345.51 670.90) rotate(-90)">BIRC3</text>
<text class="gi" text-anchor="end" transform="translate(369.19 670.90) rotate(-90)">RIPK1</text>
<text class="gi" text-anchor="end" transform="translate(392.88 670.90) rotate(-90)">RIPK2</text>
<text class="gi" text-anchor="end" transform="translate(416.57 670.90) rotate(-90)">RIPK3</text>
<text class="gi" text-anchor="end" transform="translate(440.26 670.90) rotate(-90)">TRAF2</text>
<text class="gi" text-anchor="end" transform="translate(463.95 670.90) rotate(-90)">TRAF3</text>
<text class="gi" text-anchor="end" transform="translate(487.64 670.90) rotate(-90)">NFKB1</text>
<text class="gi" text-anchor="end" transform="translate(511.33 670.90) rotate(-90)">NFKB2</text>
<text class="gi" text-anchor="end" transform="translate(535.01 670.90) rotate(-90)">RELA</text>
<text class="gi" text-anchor="end" transform="translate(558.70 670.90) rotate(-90)">RELB</text>
<text class="gi" text-anchor="end" transform="translate(582.39 670.90) rotate(-90)">IKBKG</text>
<text class="gi" text-anchor="end" transform="translate(606.08 670.90) rotate(-90)">NFKBIA</text>
<text class="gi" text-anchor="end" transform="translate(629.77 670.90) rotate(-90)">TNFAIP3</text>
<text class="gi" text-anchor="end" transform="translate(653.46 670.90) rotate(-90)">MAP3K14</text>
<text class="gi" x="668.6" y="468.04">HIF1A</text>
<text class="gi" x="668.6" y="487.12">EPAS1</text>
<text class="gi" x="668.6" y="506.20">ARNT</text>
<text class="gi" x="668.6" y="525.29">TNF</text>
<text class="gi" x="668.6" y="544.37">TNFRSF1A</text>
<text class="gi" x="668.6" y="563.45">TNFRSF1B</text>
<text class="gi" x="668.6" y="582.53">VEGFA</text>
<text class="gi" x="668.6" y="601.61">VEGFB</text>
<text class="gi" x="668.6" y="620.70">VEGFC</text>
<text class="gi" x="668.6" y="639.78">FLT1</text>
<text class="gi" x="668.6" y="658.86">KDR</text>
<text class="num" text-anchor="middle" x="78.3" y="490.6">1</text>
<text class="num" text-anchor="middle" x="134.9" y="534.5">2</text>
<text class="num" text-anchor="middle" x="221.1" y="604">3</text>
<text class="num" text-anchor="middle" x="479.7" y="567.3">4</text>
<line x1="893.80" y1="81.40" x2="893.80" y2="327.8" stroke="#8c8c8c" stroke-width="1"/>
<text class="bl" text-anchor="middle" x="893.80" y="75.7" font-size="8.3">0</text>
<line x1="906.79" y1="81.40" x2="906.79" y2="327.8" stroke="#8c8c8c" stroke-width="1"/>
<text class="bl" text-anchor="middle" x="906.79" y="75.7" font-size="8.3">1</text>
<line x1="919.77" y1="81.40" x2="919.77" y2="327.8" stroke="#8c8c8c" stroke-width="1"/>
<text class="bl" text-anchor="middle" x="919.77" y="75.7" font-size="8.3">2</text>
<line x1="932.76" y1="81.40" x2="932.76" y2="327.8" stroke="#8c8c8c" stroke-width="1"/>
<text class="bl" text-anchor="middle" x="932.76" y="75.7" font-size="8.3">3</text>
<line x1="945.75" y1="81.40" x2="945.75" y2="327.8" stroke="#8c8c8c" stroke-width="1"/>
<text class="bl" text-anchor="middle" x="945.75" y="75.7" font-size="8.3">4</text>
<line x1="958.74" y1="81.40" x2="958.74" y2="327.8" stroke="#8c8c8c" stroke-width="1"/>
<text class="bl" text-anchor="middle" x="958.74" y="75.7" font-size="8.3">5</text>
<line x1="971.73" y1="81.40" x2="971.73" y2="327.8" stroke="#8c8c8c" stroke-width="1"/>
<text class="bl" text-anchor="middle" x="971.73" y="75.7" font-size="8.3">6</text>
<line x1="984.71" y1="81.40" x2="984.71" y2="327.8" stroke="#8c8c8c" stroke-width="1"/>
<text class="bl" text-anchor="middle" x="984.71" y="75.7" font-size="8.3">7</text>
<line x1="997.70" y1="81.40" x2="997.70" y2="327.8" stroke="#8c8c8c" stroke-width="1"/>
<text class="bl" text-anchor="middle" x="997.70" y="75.7" font-size="8.3">8</text>
<line x1="891.20" y1="83.6" x2="997.7" y2="83.6" stroke="#8c8c8c" stroke-width="1"/>
<line x1="891.20" y1="327.8" x2="997.7" y2="327.8" stroke="#8c8c8c" stroke-width="1.1"/>
<line x1="891.20" y1="95.23" x2="893.8" y2="95.23" stroke="#8c8c8c" stroke-width="1"/>
<rect x="894.10" y="85.10" width="94.25" height="9.30" fill="#ff0000"/>
<text class="bl" text-anchor="end" x="886.6" y="93.50" font-size="10.25">Notch signaling pathway</text>
<line x1="891.20" y1="106.86" x2="893.8" y2="106.86" stroke="#8c8c8c" stroke-width="1"/>
<rect x="894.10" y="96.73" width="88.92" height="9.30" fill="#ff0000"/>
<text class="bl" text-anchor="end" x="886.6" y="105.13" font-size="10.25">Endothelium development</text>
<line x1="891.20" y1="118.49" x2="893.8" y2="118.49" stroke="#8c8c8c" stroke-width="1"/>
<rect x="894.10" y="108.36" width="81.13" height="9.30" fill="#ff0000"/>
<text class="bl" text-anchor="end" x="886.6" y="116.76" font-size="10.25">EC apoptotic process</text>
<line x1="891.20" y1="130.11" x2="893.8" y2="130.11" stroke="#8c8c8c" stroke-width="1"/>
<rect x="894.10" y="119.99" width="75.94" height="9.30" fill="#ff0000"/>
<text class="bl" text-anchor="end" x="886.6" y="128.39" font-size="10.25">Positive regulation of transcription</text>
<line x1="891.20" y1="141.74" x2="893.8" y2="141.74" stroke="#8c8c8c" stroke-width="1"/>
<rect x="894.10" y="131.61" width="61.39" height="9.30" fill="#ff0000"/>
<text class="bl" text-anchor="end" x="886.6" y="140.02" font-size="10.25">Extracellular matrix organization</text>
<line x1="891.20" y1="153.37" x2="893.8" y2="153.37" stroke="#8c8c8c" stroke-width="1"/>
<rect x="894.10" y="143.24" width="57.75" height="9.30" fill="#ff0000"/>
<text class="bl" text-anchor="end" x="886.6" y="151.65" font-size="10.25">EC migration</text>
<line x1="891.20" y1="165.00" x2="893.8" y2="165.00" stroke="#8c8c8c" stroke-width="1"/>
<rect x="894.10" y="154.87" width="53.60" height="9.30" fill="#ff0000"/>
<text class="bl" text-anchor="end" x="886.6" y="163.28" font-size="10.25">Vasculogenesis</text>
<rect x="724" y="164.28" width="163.6" height="2.4" fill="#fdfdfd"/>
<line x1="891.20" y1="176.63" x2="893.8" y2="176.63" stroke="#8c8c8c" stroke-width="1"/>
<rect x="894.10" y="166.50" width="51.26" height="9.30" fill="#ff0000"/>
<text class="bl" text-anchor="end" x="886.6" y="174.90" font-size="10.25">EC differentiation</text>
<line x1="891.20" y1="188.26" x2="893.8" y2="188.26" stroke="#8c8c8c" stroke-width="1"/>
<rect x="894.10" y="178.13" width="51.26" height="9.30" fill="#ff0000"/>
<text class="bl" text-anchor="end" x="886.6" y="186.53" font-size="10.25">Integrin signaling pathway</text>
<rect x="724" y="187.53" width="163.6" height="2.4" fill="#fdfdfd"/>
<line x1="891.20" y1="199.89" x2="893.8" y2="199.89" stroke="#8c8c8c" stroke-width="1"/>
<rect x="894.10" y="189.76" width="50.22" height="9.30" fill="#ff0000"/>
<text class="bl" text-anchor="end" x="886.6" y="198.16" font-size="10.25">Receptor signaling pathway</text>
<rect x="724" y="199.16" width="163.6" height="2.4" fill="#fdfdfd"/>
<line x1="891.20" y1="211.51" x2="893.8" y2="211.51" stroke="#8c8c8c" stroke-width="1"/>
<rect x="894.10" y="201.39" width="38.66" height="9.30" fill="#ff0000"/>
<text class="bl" text-anchor="end" x="886.6" y="209.79" font-size="10.25">Cell adhesion</text>
<line x1="891.20" y1="223.14" x2="893.8" y2="223.14" stroke="#8c8c8c" stroke-width="1"/>
<rect x="894.10" y="213.01" width="35.68" height="9.30" fill="#ff0000"/>
<text class="bl" text-anchor="end" x="886.6" y="221.42" font-size="10.25">Cell communication</text>
<line x1="891.20" y1="234.77" x2="893.8" y2="234.77" stroke="#8c8c8c" stroke-width="1"/>
<rect x="894.10" y="224.64" width="34.64" height="9.30" fill="#ff0000"/>
<text class="bl" text-anchor="end" x="886.6" y="233.05" font-size="10.25">Regulation of TF activity</text>
<rect x="724" y="234.05" width="163.6" height="2.4" fill="#fdfdfd"/>
<line x1="891.20" y1="246.40" x2="893.8" y2="246.40" stroke="#8c8c8c" stroke-width="1"/>
<rect x="894.10" y="236.27" width="34.64" height="9.30" fill="#ff0000"/>
<text class="bl" text-anchor="end" x="886.6" y="244.68" font-size="10.25">Cell-cell junction</text>
<rect x="724" y="245.68" width="163.6" height="2.4" fill="#fdfdfd"/>
<line x1="891.20" y1="258.03" x2="893.8" y2="258.03" stroke="#8c8c8c" stroke-width="1"/>
<rect x="894.10" y="247.90" width="34.64" height="9.30" fill="#ff0000"/>
<text class="bl" text-anchor="end" x="886.6" y="256.30" font-size="10.25">Establishment of endothelial barrier</text>
<line x1="891.20" y1="269.66" x2="893.8" y2="269.66" stroke="#8c8c8c" stroke-width="1"/>
<rect x="894.10" y="259.53" width="32.30" height="9.30" fill="#ff0000"/>
<text class="bl" text-anchor="end" x="886.6" y="267.93" font-size="10.25">Protein dimerization activity</text>
<rect x="724" y="268.93" width="163.6" height="2.4" fill="#fdfdfd"/>
<line x1="891.20" y1="281.29" x2="893.8" y2="281.29" stroke="#8c8c8c" stroke-width="1"/>
<rect x="894.10" y="271.16" width="32.30" height="9.30" fill="#ff0000"/>
<text class="bl" text-anchor="end" x="886.6" y="279.56" font-size="10.25">TGFb receptor signaling pathway</text>
<rect x="724" y="280.56" width="163.6" height="2.4" fill="#fdfdfd"/>
<line x1="891.20" y1="292.91" x2="893.8" y2="292.91" stroke="#8c8c8c" stroke-width="1"/>
<rect x="894.10" y="282.79" width="25.93" height="9.30" fill="#ff0000"/>
<text class="bl" text-anchor="end" x="886.6" y="291.19" font-size="10.25">PDGFR signaling pathway</text>
<rect x="724" y="292.19" width="163.6" height="2.4" fill="#fdfdfd"/>
<line x1="891.20" y1="304.54" x2="893.8" y2="304.54" stroke="#8c8c8c" stroke-width="1"/>
<rect x="894.10" y="294.41" width="21.78" height="9.30" fill="#ff0000"/>
<text class="bl" text-anchor="end" x="886.6" y="302.82" font-size="10.25">Transcription response to hypoxia</text>
<rect x="724" y="303.82" width="163.6" height="2.4" fill="#fdfdfd"/>
<line x1="891.20" y1="316.17" x2="893.8" y2="316.17" stroke="#8c8c8c" stroke-width="1"/>
<rect x="894.10" y="306.04" width="21.78" height="9.30" fill="#ff0000"/>
<text class="bl" text-anchor="end" x="886.6" y="314.45" font-size="10.25">Kinase signaling pathway</text>
<rect x="724" y="315.45" width="163.6" height="2.4" fill="#fdfdfd"/>
<rect x="894.10" y="317.67" width="17.49" height="9.30" fill="#ff0000"/>
<text class="bl" text-anchor="end" x="886.6" y="326.08" font-size="10.25">Blood vessel morphogenesis</text>
<rect x="724" y="327.08" width="163.6" height="2.4" fill="#fdfdfd"/>
<text x="901.8" y="60.2" font-size="10.4" font-weight="bold" fill="#111" textLength="81.7" lengthAdjust="spacingAndGlyphs">-log10 (<tspan font-style="italic">p</tspan> value)</text>
<text x="934.3" y="317.8" font-size="15.8" font-weight="bold" fill="#111" textLength="42.0" lengthAdjust="spacingAndGlyphs">HIF-1</text>
<text x="976.70" y="317.8" font-size="14.6" font-family="DejaVu Sans, Liberation Sans, sans-serif" fill="#111" textLength="11.6" lengthAdjust="spacingAndGlyphs">α</text>
<line x1="873.60" y1="399.20" x2="873.60" y2="718.9" stroke="#8c8c8c" stroke-width="1"/>
<text class="bl" text-anchor="middle" x="873.60" y="393.2" font-size="9.5">0</text>
<line x1="885.92" y1="399.20" x2="885.92" y2="718.9" stroke="#8c8c8c" stroke-width="1"/>
<text class="bl" text-anchor="middle" x="885.92" y="393.2" font-size="9.5">1</text>
<line x1="898.24" y1="399.20" x2="898.24" y2="718.9" stroke="#8c8c8c" stroke-width="1"/>
<text class="bl" text-anchor="middle" x="898.24" y="393.2" font-size="9.5">2</text>
<line x1="910.56" y1="399.20" x2="910.56" y2="718.9" stroke="#8c8c8c" stroke-width="1"/>
<text class="bl" text-anchor="middle" x="910.56" y="393.2" font-size="9.5">3</text>
<line x1="922.88" y1="399.20" x2="922.88" y2="718.9" stroke="#8c8c8c" stroke-width="1"/>
<text class="bl" text-anchor="middle" x="922.88" y="393.2" font-size="9.5">4</text>
<line x1="935.20" y1="399.20" x2="935.20" y2="718.9" stroke="#8c8c8c" stroke-width="1"/>
<text class="bl" text-anchor="middle" x="935.20" y="393.2" font-size="9.5">5</text>
<line x1="947.52" y1="399.20" x2="947.52" y2="718.9" stroke="#8c8c8c" stroke-width="1"/>
<text class="bl" text-anchor="middle" x="947.52" y="393.2" font-size="9.5">6</text>
<line x1="959.84" y1="399.20" x2="959.84" y2="718.9" stroke="#8c8c8c" stroke-width="1"/>
<text class="bl" text-anchor="middle" x="959.84" y="393.2" font-size="9.5">7</text>
<line x1="972.16" y1="399.20" x2="972.16" y2="718.9" stroke="#8c8c8c" stroke-width="1"/>
<text class="bl" text-anchor="middle" x="972.16" y="393.2" font-size="9.5">8</text>
<line x1="984.48" y1="399.20" x2="984.48" y2="718.9" stroke="#8c8c8c" stroke-width="1"/>
<text class="bl" text-anchor="middle" x="984.48" y="393.2" font-size="9.5">9</text>
<line x1="996.80" y1="399.20" x2="996.80" y2="718.9" stroke="#8c8c8c" stroke-width="1"/>
<text class="bl" text-anchor="middle" x="996.80" y="393.2" font-size="9.5">10</text>
<line x1="871.00" y1="401.4" x2="996.8" y2="401.4" stroke="#8c8c8c" stroke-width="1"/>
<line x1="871.00" y1="718.9" x2="996.8" y2="718.9" stroke="#8c8c8c" stroke-width="1.1"/>
<line x1="871.00" y1="411.98" x2="873.6" y2="411.98" stroke="#8c8c8c" stroke-width="1"/>
<rect x="873.90" y="403.10" width="105.53" height="8.60" fill="#ff0000"/>
<text class="bl" text-anchor="end" x="865.8" y="410.43" font-size="9.55">Mito protein complex</text>
<line x1="871.00" y1="422.57" x2="873.6" y2="422.57" stroke="#8c8c8c" stroke-width="1"/>
<rect x="873.90" y="413.68" width="98.01" height="8.60" fill="#ff0000"/>
<text class="bl" text-anchor="end" x="865.8" y="421.01" font-size="9.55">Mito translation</text>
<line x1="871.00" y1="433.15" x2="873.6" y2="433.15" stroke="#8c8c8c" stroke-width="1"/>
<rect x="873.90" y="424.27" width="94.81" height="8.60" fill="#ff0000"/>
<text class="bl" text-anchor="end" x="865.8" y="431.60" font-size="9.55">Electron transfer activity</text>
<line x1="871.00" y1="443.73" x2="873.6" y2="443.73" stroke="#8c8c8c" stroke-width="1"/>
<rect x="873.90" y="434.85" width="76.33" height="8.60" fill="#ff0000"/>
<text class="bl" text-anchor="end" x="865.8" y="442.18" font-size="9.55">Oxidation-reduction process</text>
<line x1="871.00" y1="454.32" x2="873.6" y2="454.32" stroke="#8c8c8c" stroke-width="1"/>
<rect x="873.90" y="445.43" width="66.10" height="8.60" fill="#ff0000"/>
<text class="bl" text-anchor="end" x="865.8" y="452.76" font-size="9.55">Cell-cell adhesion</text>
<line x1="871.00" y1="464.90" x2="873.6" y2="464.90" stroke="#8c8c8c" stroke-width="1"/>
<rect x="873.90" y="456.02" width="64.13" height="8.60" fill="#ff0000"/>
<text class="bl" text-anchor="end" x="865.8" y="463.35" font-size="9.55">NIK/NF-kappaB signaling</text>
<line x1="871.00" y1="475.48" x2="873.6" y2="475.48" stroke="#8c8c8c" stroke-width="1"/>
<rect x="873.90" y="466.60" width="48.36" height="8.60" fill="#ff0000"/>
<text class="bl" text-anchor="end" x="865.8" y="473.93" font-size="9.55">Response to IL-1</text>
<line x1="871.00" y1="486.07" x2="873.6" y2="486.07" stroke="#8c8c8c" stroke-width="1"/>
<rect x="873.90" y="477.18" width="47.13" height="8.60" fill="#ff0000"/>
<text class="bl" text-anchor="end" x="865.8" y="484.51" font-size="9.55">Blood vessel remodeling</text>
<rect x="724" y="485.51" width="142.8" height="2.4" fill="#fdfdfd"/>
<line x1="871.00" y1="496.65" x2="873.6" y2="496.65" stroke="#8c8c8c" stroke-width="1"/>
<rect x="873.90" y="487.77" width="47.13" height="8.60" fill="#ff0000"/>
<text class="bl" text-anchor="end" x="865.8" y="495.10" font-size="9.55">CDK activity</text>
<rect x="724" y="496.10" width="142.8" height="2.4" fill="#fdfdfd"/>
<line x1="871.00" y1="507.23" x2="873.6" y2="507.23" stroke="#8c8c8c" stroke-width="1"/>
<rect x="873.90" y="498.35" width="44.42" height="8.60" fill="#ff0000"/>
<text class="bl" text-anchor="end" x="865.8" y="505.68" font-size="9.55">EC migration</text>
<rect x="724" y="506.68" width="142.8" height="2.4" fill="#fdfdfd"/>
<line x1="871.00" y1="517.82" x2="873.6" y2="517.82" stroke="#8c8c8c" stroke-width="1"/>
<rect x="873.90" y="508.93" width="44.42" height="8.60" fill="#ff0000"/>
<text class="bl" text-anchor="end" x="865.8" y="516.26" font-size="9.55">Proteasome complex</text>
<line x1="871.00" y1="528.40" x2="873.6" y2="528.40" stroke="#8c8c8c" stroke-width="1"/>
<rect x="873.90" y="519.52" width="41.59" height="8.60" fill="#ff0000"/>
<text class="bl" text-anchor="end" x="865.8" y="526.85" font-size="9.55">Cell division</text>
<line x1="871.00" y1="538.98" x2="873.6" y2="538.98" stroke="#8c8c8c" stroke-width="1"/>
<rect x="873.90" y="530.10" width="41.59" height="8.60" fill="#ff0000"/>
<text class="bl" text-anchor="end" x="865.8" y="537.43" font-size="9.55">Chromatin remodeling</text>
<rect x="724" y="538.43" width="142.8" height="2.4" fill="#fdfdfd"/>
<line x1="871.00" y1="549.57" x2="873.6" y2="549.57" stroke="#8c8c8c" stroke-width="1"/>
<rect x="873.90" y="540.68" width="35.18" height="8.60" fill="#ff0000"/>
<text class="bl" text-anchor="end" x="865.8" y="548.01" font-size="9.55">Wnt signaling pathway</text>
<line x1="871.00" y1="560.15" x2="873.6" y2="560.15" stroke="#8c8c8c" stroke-width="1"/>
<rect x="873.90" y="551.27" width="32.10" height="8.60" fill="#ff0000"/>
<text class="bl" text-anchor="end" x="865.8" y="558.60" font-size="9.55">DSB DNA repair</text>
<line x1="871.00" y1="570.73" x2="873.6" y2="570.73" stroke="#8c8c8c" stroke-width="1"/>
<rect x="873.90" y="561.85" width="30.25" height="8.60" fill="#ff0000"/>
<text class="bl" text-anchor="end" x="865.8" y="569.18" font-size="9.55">Response to hypoxia</text>
<line x1="871.00" y1="581.32" x2="873.6" y2="581.32" stroke="#8c8c8c" stroke-width="1"/>
<rect x="873.90" y="572.43" width="29.39" height="8.60" fill="#ff0000"/>
<text class="bl" text-anchor="end" x="865.8" y="579.76" font-size="9.55">Sprouting angiogenesis</text>
<line x1="871.00" y1="591.90" x2="873.6" y2="591.90" stroke="#8c8c8c" stroke-width="1"/>
<rect x="873.90" y="583.02" width="28.41" height="8.60" fill="#ff0000"/>
<text class="bl" text-anchor="end" x="865.8" y="590.35" font-size="9.55">Negative reg of G2/M</text>
<rect x="724" y="591.35" width="142.8" height="2.4" fill="#fdfdfd"/>
<line x1="871.00" y1="602.48" x2="873.6" y2="602.48" stroke="#8c8c8c" stroke-width="1"/>
<rect x="873.90" y="593.60" width="27.54" height="8.60" fill="#ff0000"/>
<text class="bl" text-anchor="end" x="865.8" y="600.93" font-size="9.55">Positive reg of vasculature</text>
<line x1="871.00" y1="613.07" x2="873.6" y2="613.07" stroke="#8c8c8c" stroke-width="1"/>
<rect x="873.90" y="604.18" width="25.70" height="8.60" fill="#ff0000"/>
<text class="bl" text-anchor="end" x="865.8" y="611.51" font-size="9.55">Blood vessel morphogenesis</text>
<rect x="724" y="612.51" width="142.8" height="2.4" fill="#fdfdfd"/>
<line x1="871.00" y1="623.65" x2="873.6" y2="623.65" stroke="#8c8c8c" stroke-width="1"/>
<rect x="873.90" y="614.77" width="24.59" height="8.60" fill="#ff0000"/>
<text class="bl" text-anchor="end" x="865.8" y="622.10" font-size="9.55">Positive reg of RNA Pol II</text>
<line x1="871.00" y1="634.23" x2="873.6" y2="634.23" stroke="#8c8c8c" stroke-width="1"/>
<rect x="873.90" y="625.35" width="24.59" height="8.60" fill="#ff0000"/>
<text class="bl" text-anchor="end" x="865.8" y="632.68" font-size="9.55">EC differentiation</text>
<line x1="871.00" y1="644.82" x2="873.6" y2="644.82" stroke="#8c8c8c" stroke-width="1"/>
<rect x="873.90" y="635.93" width="24.59" height="8.60" fill="#ff0000"/>
<text class="bl" text-anchor="end" x="865.8" y="643.26" font-size="9.55">Regulation of cell death</text>
<rect x="724" y="644.26" width="142.8" height="2.4" fill="#fdfdfd"/>
<line x1="871.00" y1="655.40" x2="873.6" y2="655.40" stroke="#8c8c8c" stroke-width="1"/>
<rect x="873.90" y="646.52" width="24.59" height="8.60" fill="#ff0000"/>
<text class="bl" text-anchor="end" x="865.8" y="653.85" font-size="9.55">TNF-mediated pathway</text>
<line x1="871.00" y1="665.98" x2="873.6" y2="665.98" stroke="#8c8c8c" stroke-width="1"/>
<rect x="873.90" y="657.10" width="21.01" height="8.60" fill="#ff0000"/>
<text class="bl" text-anchor="end" x="865.8" y="664.43" font-size="9.55">Negative reg of apoptosis</text>
<line x1="871.00" y1="676.57" x2="873.6" y2="676.57" stroke="#8c8c8c" stroke-width="1"/>
<rect x="873.90" y="667.68" width="21.01" height="8.60" fill="#ff0000"/>
<text class="bl" text-anchor="end" x="865.8" y="675.01" font-size="9.55">Lipid receptor activity</text>
<rect x="724" y="676.01" width="142.8" height="2.4" fill="#fdfdfd"/>
<line x1="871.00" y1="687.15" x2="873.6" y2="687.15" stroke="#8c8c8c" stroke-width="1"/>
<rect x="873.90" y="678.27" width="21.01" height="8.60" fill="#ff0000"/>
<text class="bl" text-anchor="end" x="865.8" y="685.60" font-size="9.55">Positive reg of angiogenesis</text>
<rect x="724" y="686.60" width="142.8" height="2.4" fill="#fdfdfd"/>
<line x1="871.00" y1="697.73" x2="873.6" y2="697.73" stroke="#8c8c8c" stroke-width="1"/>
<rect x="873.90" y="688.85" width="21.01" height="8.60" fill="#ff0000"/>
<text class="bl" text-anchor="end" x="865.8" y="696.18" font-size="9.55">Glucose metabolic process</text>
<line x1="871.00" y1="708.32" x2="873.6" y2="708.32" stroke="#8c8c8c" stroke-width="1"/>
<rect x="873.90" y="699.43" width="21.01" height="8.60" fill="#ff0000"/>
<text class="bl" text-anchor="end" x="865.8" y="706.76" font-size="9.55">Inflammasome complex</text>
<rect x="873.90" y="710.02" width="18.06" height="8.60" fill="#ff0000"/>
<text class="bl" text-anchor="end" x="865.8" y="717.35" font-size="9.55">Cytokine secretion</text>
<rect x="724" y="718.35" width="142.8" height="2.4" fill="#fdfdfd"/>
<text x="890.9" y="378.4" font-size="11.6" font-weight="bold" fill="#111" textLength="89.1" lengthAdjust="spacingAndGlyphs">-log10 (<tspan font-style="italic">p</tspan> value)</text>
<text x="929.9" y="709.0" font-size="15.8" font-weight="bold" fill="#111" textLength="42.0" lengthAdjust="spacingAndGlyphs">HIF-2</text>
<text x="972.30" y="709.0" font-size="14.6" font-family="DejaVu Sans, Liberation Sans, sans-serif" fill="#111" textLength="11.6" lengthAdjust="spacingAndGlyphs">α</text>
</svg></body></html>
